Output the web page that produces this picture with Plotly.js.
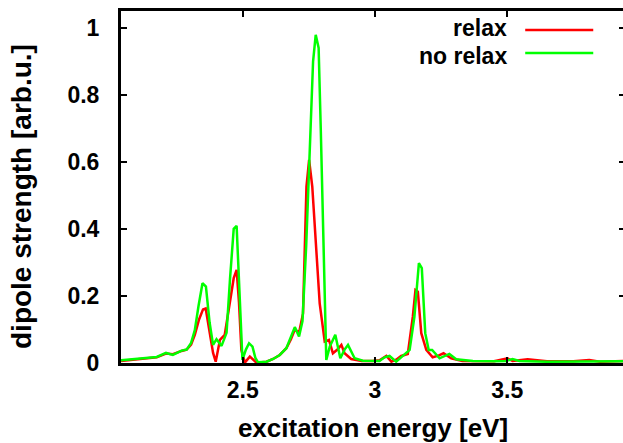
<!DOCTYPE html>
<html>
<head>
<meta charset="utf-8">
<script src="https://cdn.plot.ly/plotly-3.0.1.min.js"></script>
<style>
html,body{margin:0;padding:0;overflow:hidden;background:#fff;}
#chart{width:630px;height:443px;}
</style>
</head>
<body>
<div id="chart"></div>
<script>
// excitation energy [eV] and dipole strength, "relax"
const relaxX = [2.04,2.10,2.175,2.21,2.236,2.269,2.288,2.305,2.319,2.335,2.35,2.36,2.376,2.388,2.398,2.414,2.432,2.45,2.466,2.477,2.486,2.495,2.508,2.527,2.552,2.59,2.615,2.64,2.665,2.682,2.697,2.713,2.728,2.741,2.751,2.763,2.776,2.791,2.81,2.826,2.841,2.858,2.873,2.885,2.91,2.95,2.99,3.017,3.043,3.062,3.08,3.099,3.124,3.143,3.153,3.162,3.175,3.194,3.218,3.24,3.259,3.288,3.33,3.45,3.501,3.52,3.577,3.65,3.75,3.81,3.85,3.945];
const relaxY = [0.006,0.011,0.017,0.028,0.026,0.036,0.04,0.055,0.084,0.13,0.16,0.163,0.09,0.03,0.004,0.069,0.084,0.17,0.253,0.278,0.18,0.039,0.001,0.019,0.001,0.004,0.012,0.024,0.044,0.07,0.1,0.09,0.148,0.526,0.606,0.526,0.35,0.178,0.064,0.069,0.029,0.04,0.054,0.029,0.012,0.006,0.006,0.008,0.021,0.004,0.01,0.021,0.027,0.138,0.218,0.213,0.089,0.039,0.017,0.022,0.029,0.014,0.006,0.005,0.014,0.006,0.011,0.005,0.005,0.009,0.004,0.006];
// "no relax"
const noRelaxX = [2.04,2.10,2.175,2.21,2.236,2.269,2.288,2.305,2.319,2.333,2.348,2.361,2.375,2.388,2.401,2.42,2.439,2.452,2.466,2.477,2.488,2.499,2.512,2.524,2.537,2.548,2.558,2.59,2.615,2.64,2.665,2.682,2.697,2.713,2.726,2.74,2.753,2.766,2.776,2.787,2.795,2.803,2.81,2.816,2.829,2.85,2.869,2.885,2.898,2.923,2.954,2.992,3.017,3.036,3.055,3.08,3.105,3.131,3.149,3.166,3.177,3.19,3.203,3.216,3.244,3.265,3.281,3.307,3.37,3.45,3.495,3.52,3.546,3.65,3.75,3.85,3.945];
const noRelaxY = [0.008,0.012,0.018,0.03,0.024,0.037,0.04,0.06,0.098,0.17,0.238,0.228,0.12,0.054,0.071,0.051,0.09,0.25,0.40,0.409,0.2,0.009,0.04,0.059,0.049,0.015,0.002,0.004,0.012,0.024,0.044,0.075,0.107,0.079,0.125,0.35,0.606,0.90,0.979,0.94,0.70,0.427,0.15,0.009,0.049,0.084,0.014,0.04,0.054,0.014,0.007,0.007,0.006,0.017,0.021,0.004,0.022,0.039,0.138,0.298,0.283,0.089,0.039,0.039,0.014,0.022,0.027,0.011,0.006,0.005,0.006,0.012,0.006,0.004,0.004,0.004,0.005];

const seriesNames = ["relax", "no relax"];
const seriesColors = ["#ff0000", "#00ff00"];
const xTickVals = [2.5, 3, 3.5];
const xTickText = ["2.5", "3", "3.5"];
const yTickVals = [0, 0.2, 0.4, 0.6, 0.8, 1];
const yTickText = ["0", "0.2", "0.4", "0.6", "0.8", "1"];
const xTitle = "excitation energy [eV]";
const yTitle = "dipole strength [arb.u.]";

const FONT = "Liberation Sans, Arial, sans-serif";

const traces = [
  {x: relaxX, y: relaxY, name: seriesNames[0], type: "scatter", mode: "lines",
   line: {color: seriesColors[0], width: 2.5}},
  {x: noRelaxX, y: noRelaxY, name: seriesNames[1], type: "scatter", mode: "lines",
   line: {color: seriesColors[1], width: 2.5}}
];

const axisCommon = {
  showline: true, linecolor: "#000", linewidth: 3, mirror: "ticks",
  ticks: "inside", ticklen: 6, tickwidth: 2, tickcolor: "#000",
  showgrid: false, zeroline: false,
  tickfont: {family: FONT, size: 23, color: "#000", weight: "bold"}
};

// legend drawn gnuplot-style: text on the left, line sample on the right
const legendSplit = 0.912;   // paper y between the two legend rows
const legendLineY = [0.946, 0.881];
const annotations = [
  {xref: "paper", yref: "paper", x: 0.768, y: legendSplit,
   xanchor: "right", yanchor: "bottom", showarrow: false, borderpad: 0,
   text: "<b>" + seriesNames[0] + "</b>",
   font: {family: FONT, size: 23, color: "#000"}},
  {xref: "paper", yref: "paper", x: 0.768, y: legendSplit,
   xanchor: "right", yanchor: "top", showarrow: false, borderpad: 0,
   text: "<b>" + seriesNames[1] + "</b>",
   font: {family: FONT, size: 23, color: "#000"}},
  {xref: "paper", yref: "paper", x: 0, y: 0.4716, xshift: -99,
   xanchor: "center", yanchor: "middle", showarrow: false, textangle: -90,
   text: "<b>" + yTitle + "</b>",
   font: {family: FONT, size: 28, color: "#000"}}
];
const shapes = seriesNames.map((n, i) => ({
  type: "line", xref: "paper", yref: "paper",
  x0: 0.802, x1: 0.937, y0: legendLineY[i], y1: legendLineY[i],
  line: {color: seriesColors[i], width: 2.5}
}));

const layout = {
  width: 630, height: 443,
  margin: {l: 121, r: 5, t: 11, b: 80},
  paper_bgcolor: "#fff", plot_bgcolor: "#fff",
  showlegend: false,
  xaxis: Object.assign({}, axisCommon, {
    range: [2.04, 3.945], tickvals: xTickVals, ticktext: xTickText,
    ticklabelstandoff: 4,
    title: {text: "<b>" + xTitle + "</b>", standoff: 18,
            font: {family: FONT, size: 26, color: "#000"}}
  }),
  yaxis: Object.assign({}, axisCommon, {
    range: [0, 1.05], tickvals: yTickVals, ticktext: yTickText,
    ticklabelstandoff: 14
  }),
  annotations: annotations,
  shapes: shapes
};

Plotly.newPlot("chart", traces, layout, {staticPlot: true, displayModeBar: false});
</script>
</body>
</html>
